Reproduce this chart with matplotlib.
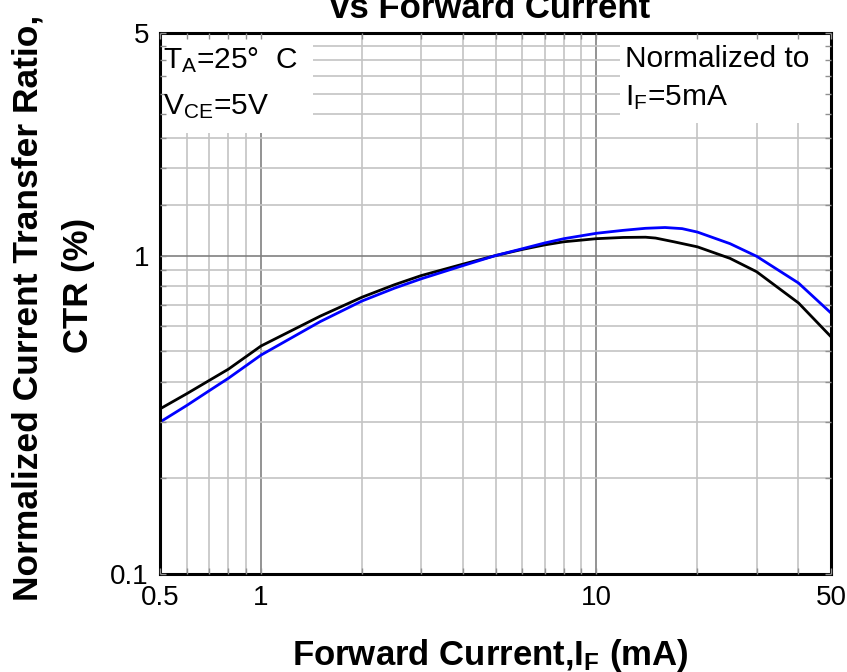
import numpy as np
import matplotlib
matplotlib.use("Agg")
import matplotlib.pyplot as plt
from matplotlib.ticker import FixedLocator, NullFormatter
from matplotlib.patches import Rectangle

plt.rcParams['font.family'] = ['Liberation Sans', 'DejaVu Sans']
plt.rcParams['mathtext.default'] = 'regular'

# forward current (mA) and normalized CTR
if_black = [0.5, 0.6, 0.7, 0.8, 1, 1.5, 2, 2.5, 3, 4, 5, 6, 7, 8, 10, 12, 14, 15, 17, 20, 25, 30, 40, 50]
ctr_black = [0.33, 0.368, 0.405, 0.44, 0.52, 0.645, 0.74, 0.81, 0.865, 0.94, 1.0, 1.045, 1.08, 1.105,
             1.13, 1.14, 1.142, 1.135, 1.105, 1.065, 0.98, 0.89, 0.71, 0.556]
if_blue = [0.5, 0.6, 0.7, 0.8, 1, 1.5, 2, 2.5, 3, 4, 5, 6, 7, 8, 10, 12, 14, 16, 18, 20, 25, 30, 40, 50]
ctr_blue = [0.30, 0.338, 0.376, 0.412, 0.487, 0.62, 0.72, 0.79, 0.845, 0.93, 1.0, 1.05, 1.095, 1.13,
            1.175, 1.2, 1.218, 1.225, 1.215, 1.185, 1.09, 0.995, 0.82, 0.66]

x_ticks = [0.5, 1, 10, 50]
x_ticklabels = ['0.5', '1', '10', '50']
y_ticks = [0.1, 1, 5]
y_ticklabels = ['0.1', '1', '5']
x_minor = [0.6, 0.7, 0.8, 0.9, 2, 3, 4, 5, 6, 7, 8, 9, 20, 30, 40]
y_minor = [0.2, 0.3, 0.4, 0.5, 0.6, 0.7, 0.8, 0.9] + [1 + k * 4 / 9 for k in range(1, 9)]

fig = plt.figure(figsize=(8.47, 6.72), dpi=100)
pos = [160 / 847, 1 - 574 / 672, 671 / 847, 541 / 672]
ax = fig.add_axes(pos)

def setup(a):
    a.set_xscale('log')
    a.set_yscale('log')
    a.set_xlim(0.5, 50)
    a.set_ylim(0.1, 5)
    a.xaxis.set_major_locator(FixedLocator(x_ticks))
    a.yaxis.set_major_locator(FixedLocator(y_ticks))
    a.xaxis.set_minor_locator(FixedLocator(x_minor))
    a.yaxis.set_minor_locator(FixedLocator(y_minor))
    a.xaxis.set_minor_formatter(NullFormatter())
    a.yaxis.set_minor_formatter(NullFormatter())

setup(ax)
ax.set_axisbelow(True)
ax.grid(True, which='major', color='#808080', lw=1.2)
ax.grid(True, which='minor', color='#c4c4c4', lw=1.2)
ax.tick_params(which='both', length=0)
ax.set_xticklabels(x_ticklabels)
ax.set_yticklabels(y_ticklabels)
ax.tick_params(axis='both', labelsize=20, pad=8, colors='black')

ax.plot(if_black, ctr_black, color='black', lw=2.0, zorder=3)
ax.plot(if_blue, ctr_blue, color='#0000ff', lw=2.0, zorder=3)

# white boxes under the condition notes
ax.add_patch(Rectangle((0, 0.815), 0.228, 0.185, transform=ax.transAxes,
                       facecolor='white', edgecolor='none', zorder=1))
ax.add_patch(Rectangle((0.686, 0.834), 0.314, 0.166, transform=ax.transAxes,
                       facecolor='white', edgecolor='none', zorder=1))

for s in ax.spines.values():
    s.set_linewidth(2.2)
    s.set_zorder(4)

# overlay axes only for the inward ticks on every side
ax2 = fig.add_axes(pos)
setup(ax2)
ax2.patch.set_visible(False)
for s in ax2.spines.values():
    s.set_visible(False)
ax2.tick_params(which='both', direction='in', top=True, right=True, color='#909090',
                labelbottom=False, labelleft=False, length=4, width=1)

fs = 21.5
fig.text(163 / 847, 1 - 68 / 672, 'T$_A$=25°  C', fontsize=fs, va='baseline')
fig.text(163 / 847, 1 - 114 / 672, 'V$_{CE}$=5V', fontsize=fs, va='baseline')
fig.text(625 / 847, 1 - 67 / 672, 'Normalized to', fontsize=fs, va='baseline')
fig.text(625 / 847, 1 - 105 / 672, 'I$_F$=5mA', fontsize=fs, va='baseline')

fig.text(490 / 847, 1 - 18 / 672, 'vs Forward Current', fontsize=25, fontweight='bold',
         ha='center', va='baseline')
fig.text(490 / 847, 1 - 665 / 672, 'Forward Current,I$_F$ (mA)', fontsize=25, fontweight='bold',
         ha='center', va='baseline')
fig.text(28 / 847, 1 - 308 / 672, 'Normalized Current Transfer Ratio,', fontsize=25.5,
         fontweight='bold', rotation=90, ha='center', va='center')
fig.text(78 / 847, 1 - 285 / 672, 'CTR (%)', fontsize=25, fontweight='bold',
         rotation=90, ha='center', va='center')

fig.savefig('out.png', dpi=100)
